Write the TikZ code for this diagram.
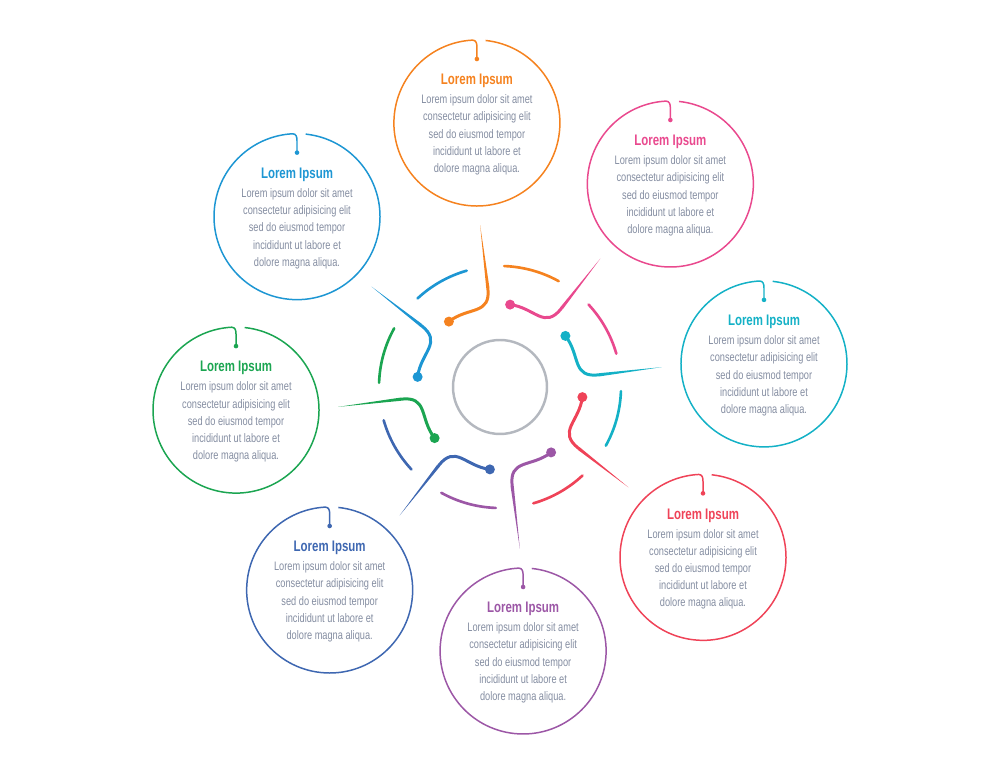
\documentclass[tikz,border=0pt]{standalone}
\usepackage{fontspec}
\setmainfont{Liberation Sans}
\newfontfamily\bodyfont[FakeStretch=0.75]{Liberation Sans}
\newfontfamily\titlefont[FakeStretch=0.75]{Liberation Sans}
\usetikzlibrary{calc}

\definecolor{cOrange}{HTML}{F5821F}
\definecolor{cPink}{HTML}{E9498E}
\definecolor{cCyan}{HTML}{14B1C6}
\definecolor{cRed}{HTML}{EF4358}
\definecolor{cPurple}{HTML}{9C57A6}
\definecolor{cBlue}{HTML}{3E67B1}
\definecolor{cGreen}{HTML}{1BA551}
\definecolor{cSky}{HTML}{1D96D3}
\definecolor{cHub}{HTML}{B4B8BF}
\definecolor{cText}{HTML}{848DA1}

\tikzset{
  ring/.style={line width=0.85pt},
  swirl/.style={line width=1.7pt, line cap=round},
  band/.style={line width=1.5pt, line cap=round},
  ttl/.style={font=\titlefont\bfseries\fontsize{8.7}{10}\selectfont, inner sep=0pt},
  body/.style={font=\bodyfont\fontsize{7}{9.8}\selectfont, text=cText, align=center, inner sep=0pt}
}

\begin{document}
\begin{tikzpicture}[x=0.02cm, y=0.02cm]
	\useasboundingbox (0,0) rectangle (1000,774);

	% hub
	\node[circle, draw=cHub, line width=1.4pt, inner sep=0pt, minimum size=1.88cm] (ctr) at (500,387) {};

	\foreach \a/\col [count=\i] in {95/cOrange, 50/cPink, 5/cCyan, -40/cRed, -85/cPurple, -130/cBlue, 185/cGreen, 140/cSky} {
		\coordinate (c\i) at ([shift={(\a:265)}]ctr);
		\coordinate (d\i) at ([shift={(\a+33:83)}]ctr);
		\coordinate (e\i) at ([shift={(\a+2:100)}]ctr);
		\coordinate (s\i) at ([shift={(\a+2:163)}]ctr);

		% inner band piece
		\draw[band, \col] ([shift={(\a-34:121)}]ctr) arc[start angle=\a-34, end angle=\a-7, radius=121];

		% swirl with dot and spike
		\draw[swirl, \col] (d\i) .. controls +(\a-57:25) and +(\a+182:28) .. (e\i);
		\fill[\col] ([shift={(\a-88:1.6)}]e\i) -- (s\i) -- ([shift={(\a+92:1.6)}]e\i) -- cycle;
		\fill[\col] (d\i) circle (5);

		% outer circle with hook
		\draw[ring, \col] (c\i) ++(84:83) arc[start angle=84, end angle=-267, radius=83]
			.. controls +(-3:3.5) and +(90:4) .. ++(4.34,-6.89) -- ++(0,-12);
		\fill[\col] ([shift={(0,64)}]c\i) circle (2.3);

		\node[ttl, text=\col] (t\i) at ([shift={(0,42)}]c\i) {Lorem Ipsum};
		\node[body] (b\i) at ([shift={(0,-12)}]c\i) {Lorem ipsum dolor sit amet\\consectetur adipisicing elit\\sed do eiusmod tempor\\incididunt ut labore et\\dolore magna aliqua.};
	}
\end{tikzpicture}
\end{document}
